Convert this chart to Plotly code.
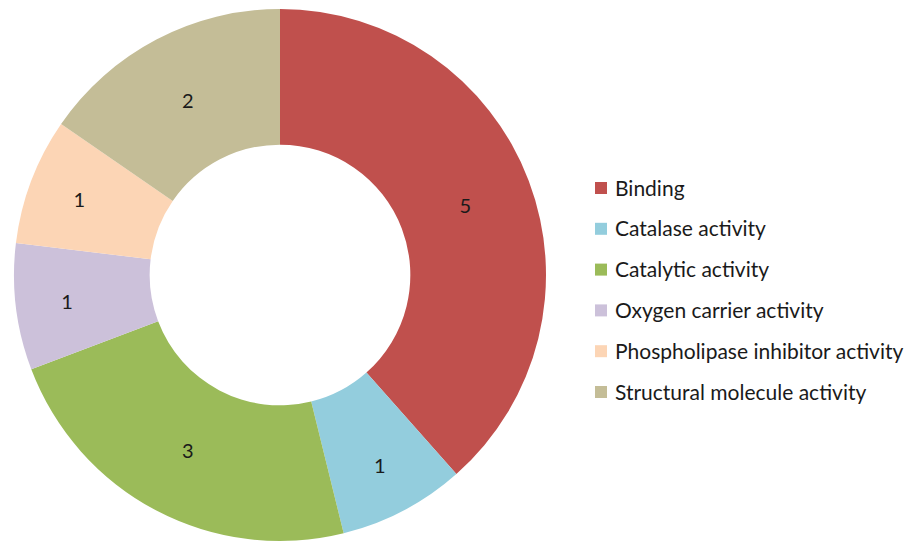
import plotly.graph_objects as go

# Molecular function categories and protein counts
categories = [
    "Binding",
    "Catalase activity",
    "Catalytic activity",
    "Oxygen carrier activity",
    "Phospholipase inhibitor activity",
    "Structural molecule activity",
]
counts = [5, 1, 3, 1, 1, 2]
colors = ["#C0504D", "#93CDDD", "#9BBB59", "#CCC1DA", "#FCD5B5", "#C4BD97"]

W, H = 915, 542
FONT = "Lato, Calibri, 'Open Sans', sans-serif"

# Donut geometry in pixels (centre and outer radius)
cx, cy, r = 280, 275, 266

fig = go.Figure(
    go.Pie(
        labels=categories,
        values=counts,
        sort=False,
        direction="clockwise",
        rotation=0,
        hole=0.49,
        marker=dict(colors=colors, line=dict(width=0)),
        textinfo="value",
        textposition="inside",
        insidetextorientation="horizontal",
        textfont=dict(family=FONT, size=20, color="#1a1a1a"),
        domain=dict(
            x=[(cx - r) / W, (cx + r) / W],
            y=[(H - cy - r) / H, (H - cy + r) / H],
        ),
        showlegend=False,
        hoverinfo="label+value",
    )
)

# Legend: coloured squares with labels, one row per category
sq = 12
x_sq = 595
x_txt = 613
y0, dy = 188, 40.8
shapes, annotations = [], []
for i, (name, col) in enumerate(zip(categories, colors)):
    yc = y0 + i * dy
    shapes.append(
        dict(
            type="rect",
            xref="paper", yref="paper",
            x0=x_sq / W, x1=(x_sq + sq) / W,
            y0=1 - (yc + sq / 2) / H, y1=1 - (yc - sq / 2) / H,
            fillcolor=col, line=dict(width=0),
        )
    )
    annotations.append(
        dict(
            text=name,
            xref="paper", yref="paper",
            x=x_txt / W, y=1 - (yc - 1) / H,
            xanchor="left", yanchor="middle",
            showarrow=False,
            font=dict(family=FONT, size=21, color="#1a1a1a"),
        )
    )

fig.update_layout(
    width=W,
    height=H,
    margin=dict(l=0, r=0, t=0, b=0),
    paper_bgcolor="white",
    plot_bgcolor="white",
    shapes=shapes,
    annotations=annotations,
)

fig.write_html("out.html")
